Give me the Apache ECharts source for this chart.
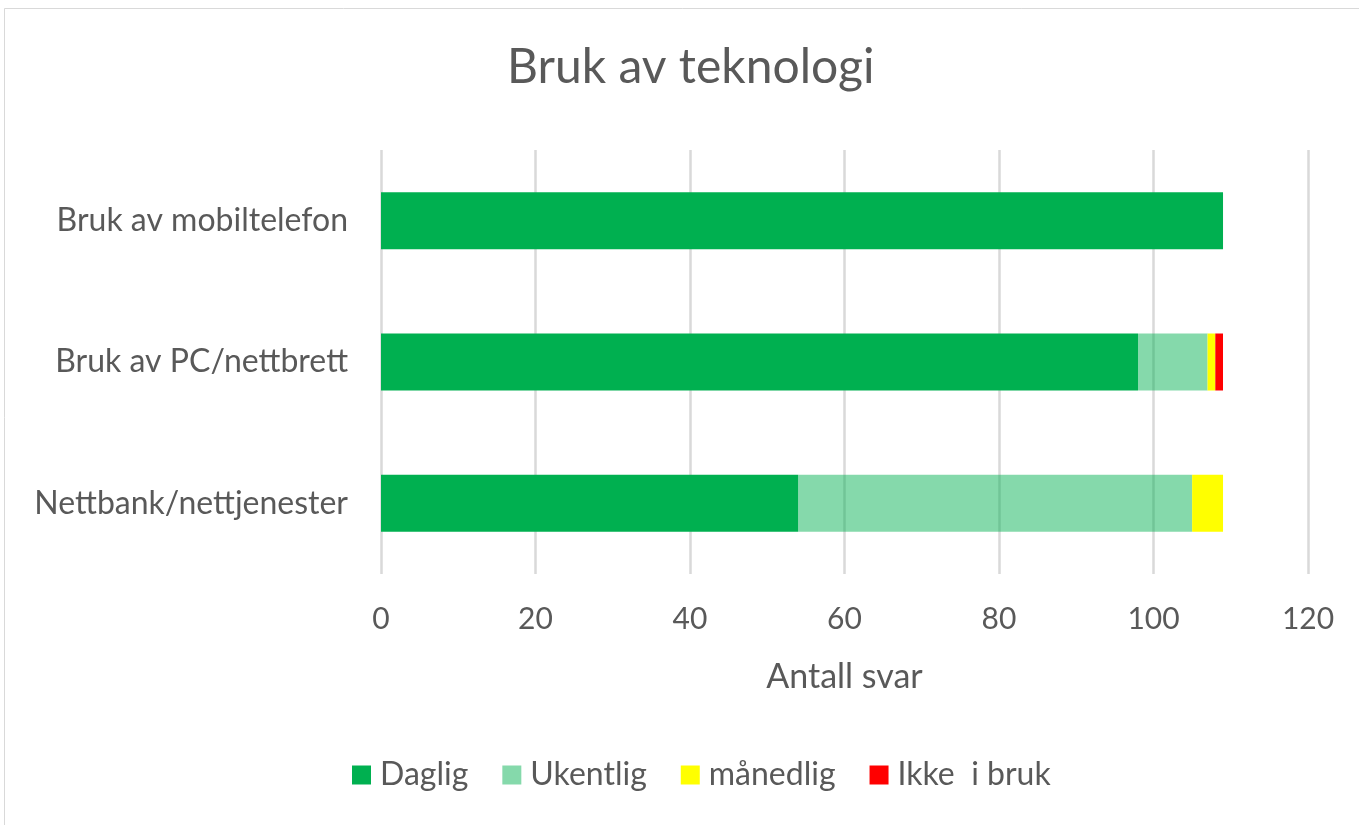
<!DOCTYPE html>
<html>
<head>
<meta charset="utf-8">
<script src="https://cdn.jsdelivr.net/npm/echarts@6/dist/echarts.min.js"></script>
<style>
html,body{margin:0;padding:0;background:#fff;}
#chart{width:1359px;height:825px;}
</style>
</head>
<body>
<div id="chart"></div>
<script>
const categories = ['Bruk av mobiltelefon', 'Bruk av PC/nettbrett', 'Nettbank/nettjenester'];
const seriesNames = ['Daglig', 'Ukentlig', 'månedlig', 'Ikke  i bruk'];
const daglig = [109, 98, 54];
const ukentlig = [0, 9, 51];
const maanedlig = [0, 1, 4];
const ikkeIBruk = [0, 1, 0];
const xTicks = [0, 20, 40, 60, 80, 100, 120];

const colors = ['#00B050', 'rgba(0,176,80,0.48)', '#FFFF00', '#FF0000'];
const values = [daglig, ukentlig, maanedlig, ikkeIBruk];
const FONT = 'Lato';
const TXT = '#595959';

const chart = echarts.init(document.getElementById('chart'), null, {renderer: 'canvas'});
chart.setOption({
  animation: false,
  backgroundColor: '#fff',
  textStyle: {fontFamily: FONT, color: TXT},
  graphic: [{
    type: 'rect',
    shape: {x: 4.5, y: 8.5, width: 1400, height: 900},
    style: {fill: 'none', stroke: '#d9d9d9', lineWidth: 1}
  }],
  title: {
    text: 'Bruk av teknologi',
    left: 507,
    top: 44,
    padding: 0,
    textStyle: {fontFamily: FONT, fontSize: 48, fontWeight: 'normal', color: TXT}
  },
  legend: {
    data: seriesNames,
    bottom: 29,
    left: 347,
    itemWidth: 19,
    itemHeight: 19,
    itemGap: 34,
    icon: 'rect',
    textStyle: {fontFamily: FONT, fontSize: 32, color: TXT, padding: [0, 0, 0, 4]}
  },
  grid: {left: 381, right: 51, top: 150, bottom: 251, containLabel: false},
  xAxis: {
    type: 'value',
    min: xTicks[0],
    max: xTicks[xTicks.length - 1],
    interval: xTicks[1] - xTicks[0],
    name: 'Antall svar',
    nameLocation: 'middle',
    nameGap: 86,
    nameTextStyle: {fontFamily: FONT, fontSize: 34, color: TXT},
    axisLine: {show: false},
    axisTick: {show: false},
    axisLabel: {fontFamily: FONT, fontSize: 30, color: TXT, margin: 30},
    splitLine: {show: true, lineStyle: {color: '#d9d9d9', width: 2.5}}
  },
  yAxis: {
    type: 'category',
    data: categories,
    inverse: true,
    axisLine: {show: false},
    axisTick: {show: false},
    axisLabel: {fontFamily: FONT, fontSize: 32, color: TXT, margin: 33}
  },
  series: seriesNames.map((n, i) => ({
    name: n,
    type: 'bar',
    stack: 'total',
    barWidth: 57,
    data: values[i],
    itemStyle: {color: colors[i]}
  }))
});
</script>
</body>
</html>
